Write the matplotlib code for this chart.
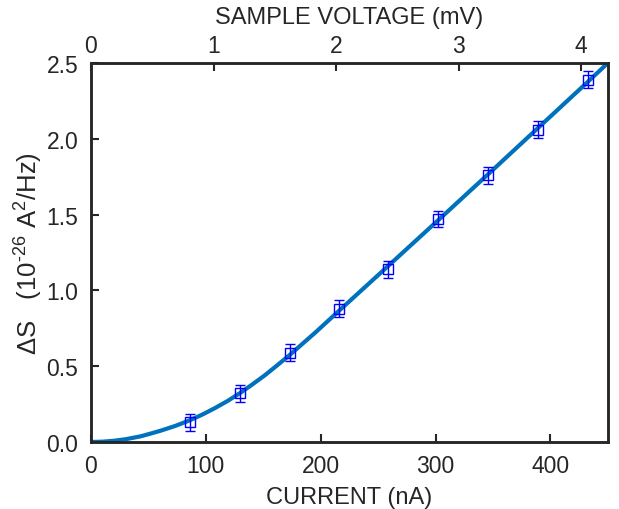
import numpy as np
import matplotlib
matplotlib.use('Agg')
import matplotlib.pyplot as plt

plt.rcParams['font.family'] = ['Liberation Sans', 'DejaVu Sans']
plt.rcParams['mathtext.fontset'] = 'custom'
plt.rcParams['mathtext.rm'] = 'Liberation Sans'
plt.rcParams['mathtext.it'] = 'Liberation Sans:italic'

# measured points
current = [86.5, 129.5, 173, 216, 259, 302.5, 346, 389, 432.5]
delta_s = [0.13, 0.32, 0.59, 0.88, 1.14, 1.47, 1.76, 2.06, 2.39]
err = [0.055, 0.055, 0.055, 0.055, 0.055, 0.055, 0.055, 0.055, 0.055]

# fit curve
fit_x = [0, 10, 20, 30, 43, 51, 60, 73, 86, 97, 108, 119, 130, 140, 151,
         162, 173, 184, 195, 216, 259, 303, 346, 389, 432, 450]
fit_y = [0, 0.002, 0.008, 0.018, 0.037, 0.0535, 0.073, 0.105, 0.143, 0.181,
         0.224, 0.271, 0.324, 0.377, 0.438, 0.505, 0.574, 0.647, 0.72,
         0.866, 1.163, 1.468, 1.768, 2.07, 2.372, 2.5]

# top axis: sample voltage
nA_per_mV = 106.7
volt_ticks = [0, 1, 2, 3, 4]

fig = plt.figure(figsize=(6.19, 5.10), dpi=100)
ax = fig.add_axes([0.147, 0.1314, 0.835, 0.7431])

ax.plot(fit_x, fit_y, color='#0072BD', lw=3.0, zorder=2, solid_joinstyle='round')
ax.errorbar(current, delta_s, yerr=err, fmt='s', mfc='none', mec='#0000FF',
            ecolor='#0000FF', ms=6.5, mew=1.0, elinewidth=1.0, capsize=3.5,
            capthick=1.0, zorder=3)

ax.set_xlim(0, 450)
ax.set_ylim(0, 2.5)
ax.set_xticks([0, 100, 200, 300, 400])
ax.set_yticks([0, 0.5, 1.0, 1.5, 2.0, 2.5])
ax.set_yticklabels(['0.0', '0.5', '1.0', '1.5', '2.0', '2.5'])
ax.set_xlabel('CURRENT (nA)', fontsize=17, color='#262626', labelpad=6)
ax.set_ylabel(r'ΔS   (10$^{\text{-26}}$ A$^{\text{2}}$/Hz)', fontsize=18.5,
              color='#262626', labelpad=1)
ax.tick_params(direction='in', length=6, width=1.5, labelsize=16.5, colors='#262626', pad=9)

for s in ax.spines.values():
    s.set_linewidth(1.8)
    s.set_color('#262626')

ax2 = ax.twiny()
ax2.set_xlim(0, 450 / nA_per_mV)
ax2.set_xticks(volt_ticks)
ax2.set_xlabel('SAMPLE VOLTAGE (mV)', fontsize=17, color='#262626', labelpad=8)
ax2.tick_params(direction='in', length=6, width=1.5, labelsize=16.5, colors='#262626', pad=4)
for s in ax2.spines.values():
    s.set_linewidth(1.8)
    s.set_color('#262626')

fig.savefig('out.png', dpi=100)
